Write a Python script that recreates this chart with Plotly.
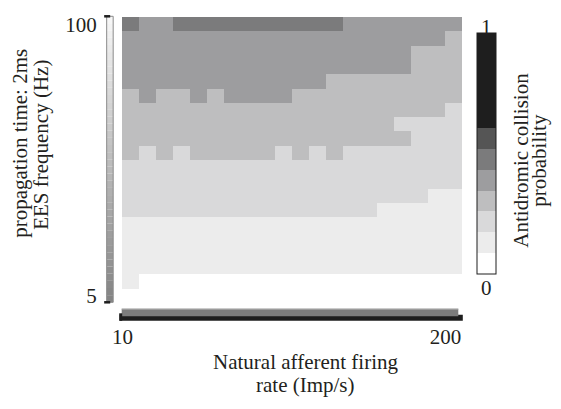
import plotly.graph_objects as go

# ---------------- data ----------------
rates = [10, 20, 30, 40, 50, 60, 70, 80, 90, 100,
         110, 120, 130, 140, 150, 160, 170, 180, 190, 200]      # Imp/s
freqs = [5, 10, 15, 20, 25, 30, 35, 40, 45, 50,
         55, 60, 65, 70, 75, 80, 85, 90, 95, 100]               # Hz

# probability level of each cell, rows listed from 100 Hz (top) down to 5 Hz
levels_top_down = [
    [5, 4, 4, 5, 5, 5, 5, 5, 5, 5, 5, 5, 5, 4, 4, 4, 4, 4, 4, 4],  # 100
    [4, 4, 4, 4, 4, 4, 4, 4, 4, 4, 4, 4, 4, 4, 4, 4, 4, 4, 4, 3],  # 95
    [4, 4, 4, 4, 4, 4, 4, 4, 4, 4, 4, 4, 4, 4, 4, 4, 4, 3, 3, 3],  # 90
    [4, 4, 4, 4, 4, 4, 4, 4, 4, 4, 4, 4, 4, 4, 4, 4, 4, 3, 3, 3],  # 85
    [4, 4, 4, 4, 4, 4, 4, 4, 4, 4, 4, 4, 3, 3, 3, 3, 3, 3, 3, 3],  # 80
    [3, 4, 3, 3, 4, 3, 4, 4, 4, 4, 3, 3, 3, 3, 3, 3, 3, 3, 3, 3],  # 75
    [3, 3, 3, 3, 3, 3, 3, 3, 3, 3, 3, 3, 3, 3, 3, 3, 3, 3, 3, 2],  # 70
    [3, 3, 3, 3, 3, 3, 3, 3, 3, 3, 3, 3, 3, 3, 3, 3, 2, 2, 2, 2],  # 65
    [3, 3, 3, 3, 3, 3, 3, 3, 3, 3, 3, 3, 3, 3, 3, 3, 3, 2, 2, 2],  # 60
    [3, 2, 3, 2, 3, 3, 3, 3, 3, 2, 3, 2, 3, 2, 2, 2, 2, 2, 2, 2],  # 55
    [2, 2, 2, 2, 2, 2, 2, 2, 2, 2, 2, 2, 2, 2, 2, 2, 2, 2, 2, 2],  # 50
    [2, 2, 2, 2, 2, 2, 2, 2, 2, 2, 2, 2, 2, 2, 2, 2, 2, 2, 2, 2],  # 45
    [2, 2, 2, 2, 2, 2, 2, 2, 2, 2, 2, 2, 2, 2, 2, 2, 2, 2, 1, 1],  # 40
    [2, 2, 2, 2, 2, 2, 2, 2, 2, 2, 2, 2, 2, 2, 2, 1, 1, 1, 1, 1],  # 35
    [1, 1, 1, 1, 1, 1, 1, 1, 1, 1, 1, 1, 1, 1, 1, 1, 1, 1, 1, 1],  # 30
    [1, 1, 1, 1, 1, 1, 1, 1, 1, 1, 1, 1, 1, 1, 1, 1, 1, 1, 1, 1],  # 25
    [1, 1, 1, 1, 1, 1, 1, 1, 1, 1, 1, 1, 1, 1, 1, 1, 1, 1, 1, 1],  # 20
    [1, 1, 1, 1, 1, 1, 1, 1, 1, 1, 1, 1, 1, 1, 1, 1, 1, 1, 1, 1],  # 15
    [1, 0, 0, 0, 0, 0, 0, 0, 0, 0, 0, 0, 0, 0, 0, 0, 0, 0, 0, 0],  # 10
    [0, 0, 0, 0, 0, 0, 0, 0, 0, 0, 0, 0, 0, 0, 0, 0, 0, 0, 0, 0],  # 5
]

# colour bins of the colour bar (probability edges) and their greys
bin_edges = [0.0, 0.0865, 0.173, 0.2595, 0.346, 0.4325, 0.519, 0.6055, 1.0]
bin_colors = ["#ffffff", "#ececec", "#d9d9da", "#bebebf",
              "#9d9d9f", "#7b7b7c", "#555555", "#1e1e1e"]
level_prob = [0.043, 0.130, 0.216, 0.303, 0.389, 0.476]

y_ticks = [5, 100]
x_ticks = [10, 200]

# ---------------- figure ----------------
OFF = 8                      # page body margin of the html page
W, H = 561 - OFF, 409 - OFF
# plot area in screen pixels
PL, PR, PT, PB = 122.3, 461.7, 16.7, 302.7
TXT = "#231f20"
FONT = "Liberation Serif"
FS = 21

z = [[level_prob[v] for v in row] for row in reversed(levels_top_down)]

colorscale = []
for i, c in enumerate(bin_colors):
    colorscale.append([bin_edges[i], c])
    colorscale.append([bin_edges[i + 1], c])


def px_x(px):
    return (px - PL) / (PR - PL)


def px_y(py):
    return 1 - (py - PT) / (PB - PT)


fig = go.Figure()
fig.add_trace(go.Heatmap(
    x=rates, y=freqs, z=z,
    zmin=0, zmax=1, colorscale=colorscale,
    xgap=0, ygap=0, hoverongaps=False,
    colorbar=dict(
        x=px_x(476.7), xanchor="left", xpad=0, ypad=0,
        y=px_y((33.3 + 274) / 2), yanchor="middle",
        thickness=18.5, lenmode="pixels", len=240.7,
        outlinewidth=1, outlinecolor="#1e1e1e",
        ticks="", showticklabels=False,
    ),
))

shapes = []
# vertical grey gradient bar beside the y axis
n = 40
top, bot = 16.0, 302.0
for i in range(n):
    t = i / (n - 1)
    g = int(round(246 - t * (246 - 132)))
    y0 = top + (bot - top) * i / n
    y1 = top + (bot - top) * (i + 1) / n
    shapes.append(dict(type="rect", xref="paper", yref="paper",
                       x0=px_x(107), x1=px_x(113.5), y0=px_y(y1), y1=px_y(y0),
                       fillcolor=f"rgb({g},{g},{g})", line=dict(width=0), layer="above"))
shapes.append(dict(type="rect", xref="paper", yref="paper",
                   x0=px_x(107), x1=px_x(113.5), y0=px_y(bot), y1=px_y(top),
                   line=dict(color="#8a8a8a", width=1), fillcolor="rgba(0,0,0,0)"))
for yy in (top, bot):
    shapes.append(dict(type="line", xref="paper", yref="paper",
                       x0=px_x(104.5), x1=px_x(110.5), y0=px_y(yy), y1=px_y(yy),
                       line=dict(color="#1e1e1e", width=2.5)))
# horizontal bar under the x axis
shapes.append(dict(type="rect", xref="paper", yref="paper",
                   x0=px_x(120), x1=px_x(462.5), y0=px_y(320.5), y1=px_y(314.5),
                   fillcolor="#1e1e1e", line=dict(width=0)))
shapes.append(dict(type="rect", xref="paper", yref="paper",
                   x0=px_x(122), x1=px_x(458), y0=px_y(316), y1=px_y(308.5),
                   fillcolor="#7d7d7d", line=dict(width=0)))
shapes.append(dict(type="line", xref="paper", yref="paper",
                   x0=px_x(122), x1=px_x(458), y0=px_y(308.8), y1=px_y(308.8),
                   line=dict(color="#b0b0b0", width=1)))
shapes.append(dict(type="rect", xref="paper", yref="paper",
                   x0=px_x(119.5), x1=px_x(122.5), y0=px_y(320.5), y1=px_y(313),
                   fillcolor="#1e1e1e", line=dict(width=0)))


def ann(text, x, y, angle=0):
    return dict(text=text, x=px_x(x), y=px_y(y), xref="paper", yref="paper",
                xanchor="center", yanchor="middle", showarrow=False,
                textangle=angle, font=dict(family=FONT, size=FS, color=TXT))


annotations = [
    ann("1", 486.5, 27),
    ann("0", 486.5, 288),
    ann("Antidromic collision", 521, 160, -90),
    ann("probability", 539, 160, -90),
    ann("propagation time: 2ms", 21, 143, -90),
    ann("EES frequency (Hz)", 42, 145, -90),
    ann("Natural afferent firing", 306, 362),
    ann("rate (Imp/s)", 305, 385),
]

fig.update_layout(
    width=W, height=H,
    margin=dict(l=PL - OFF, r=561 - PR, t=PT - OFF, b=409 - PB, pad=0,
                autoexpand=False),
    paper_bgcolor="white", plot_bgcolor="white",
    font=dict(family=FONT, size=FS, color=TXT),
    xaxis=dict(range=[5, 205], tickvals=x_ticks, ticks="outside", ticklen=15,
               ticklabelshift=-8,
               tickcolor="rgba(0,0,0,0)", showgrid=False, zeroline=False,
               showline=False, tickfont=dict(family=FONT, size=FS, color=TXT)),
    yaxis=dict(range=[2.5, 102.5], tickvals=y_ticks, ticks="outside", ticklen=20,
               tickcolor="rgba(0,0,0,0)", showgrid=False, zeroline=False,
               showline=False, tickfont=dict(family=FONT, size=FS, color=TXT)),
    shapes=shapes,
    annotations=annotations,
    showlegend=False,
)

fig.write_html("out.html")
